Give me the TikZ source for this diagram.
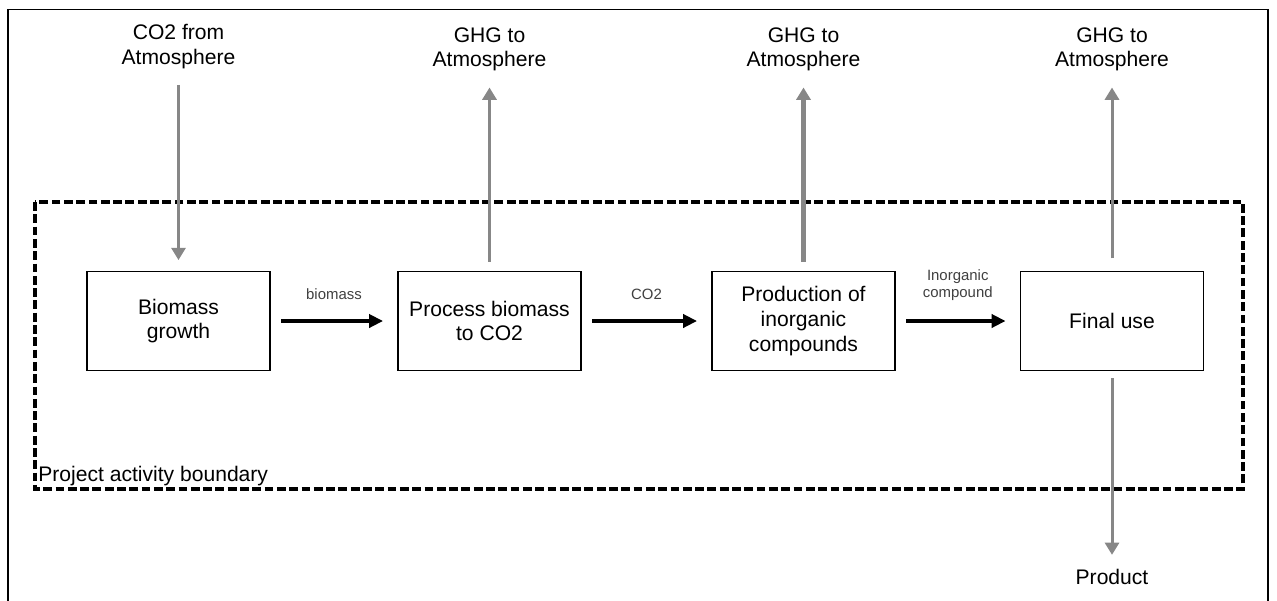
\documentclass[tikz,border=0pt]{standalone}
\usepackage{fontspec}
\setmainfont{Liberation Sans}
\usetikzlibrary{arrows.meta}

\begin{document}
\begin{tikzpicture}[font=\fontsize{12}{14}\selectfont,
  box/.style={draw,line width=1pt,minimum width=3.66cm,minimum height=1.98cm,align=center,inner sep=2pt},
  txt/.style={align=center,inner sep=1pt},
  lbl/.style={font=\fontsize{8.5}{10}\selectfont,align=center,text=black!75},
  flow/.style={-{Triangle[length=8pt,width=7.5pt]},line width=2.2pt,shorten <=6pt,shorten >=8pt},
  gas/.style={-{Triangle[length=7pt,width=8pt]},line width=1.7pt,draw=black!47}]
\useasboundingbox (0,0) rectangle (25.54,-12);
\draw[line width=1pt] (0.16,-12.2) -- (0.16,-0.19) -- (25.36,-0.19) -- (25.36,-12.2);
\draw[line width=2pt,dash pattern=on 5pt off 2pt] (0.70,-4.04) rectangle (24.86,-9.78);
\node[anchor=south west,inner sep=0pt] (bnd) at (0.76,-9.72) {Project activity boundary};
% process chain
\node[box] (B) at (3.57,-6.42) {Biomass\\ growth};
\node[box] (P) at (9.79,-6.42) {Process biomass\\ to CO2};
\node[box] (I) at (16.07,-6.42) {Production of\\ inorganic\\ compounds};
\node[box] (F) at (22.24,-6.42) {Final use};
\draw[flow] (B) -- node[lbl,above=8pt]{biomass} (P);
\draw[flow] (P) -- node[lbl,above=8pt]{CO2} (I);
\draw[flow] (I) -- node[lbl,above=7pt]{Inorganic\\ compound} (F);
% exchange with atmosphere
\node[txt] (aB) at (3.57,-0.93) {CO2 from\\ Atmosphere};
\node[txt] (aP) at (9.79,-0.99) {GHG to\\ Atmosphere};
\node[txt] (aI) at (16.07,-0.99) {GHG to\\ Atmosphere};
\node[txt] (aF) at (22.24,-0.99) {GHG to\\ Atmosphere};
\node[txt] (prod) at (22.24,-11.54) {Product};
\draw[gas,shorten <=8pt,shorten >=6pt] (aB) -- (B);
\draw[gas,shorten <=5pt,shorten >=8pt] (P) -- (aP);
\draw[gas,line width=2.8pt,shorten <=5pt,shorten >=8pt] (I) -- (aI);
\draw[gas,shorten <=7pt,shorten >=8pt] (F) -- (aF);
\draw[gas,shorten <=4pt,shorten >=7pt] (F) -- (prod);
\end{tikzpicture}
\end{document}
